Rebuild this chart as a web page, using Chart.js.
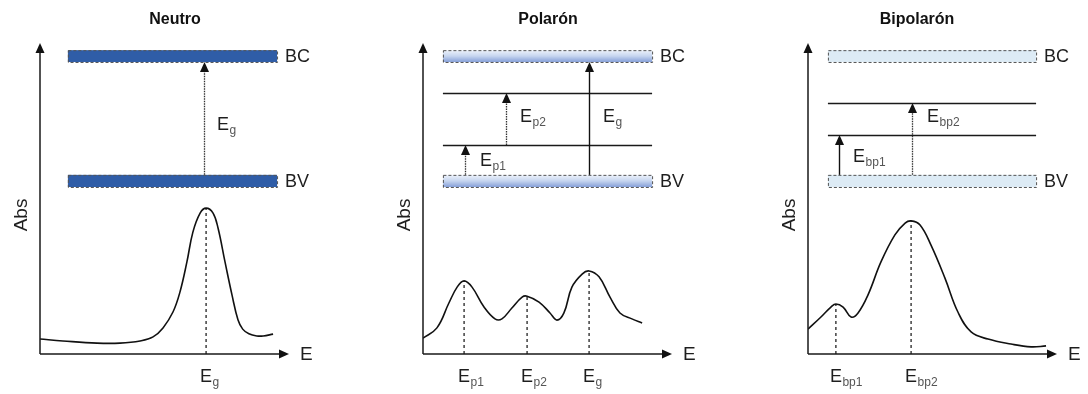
<!DOCTYPE html>
<html>
<head>
<meta charset="utf-8">
<script src="https://cdn.jsdelivr.net/npm/chart.js@4.4.0/dist/chart.umd.min.js"></script>
<style>
  html, body { margin: 0; padding: 0; background: #fff; }
  #wrap { position: relative; width: 1088px; height: 394px; overflow: hidden; }
  .panel { position: absolute; top: 0; width: 320px; height: 394px; }
</style>
</head>
<body>
<div id="wrap">
  <div class="panel" style="left:0px"><canvas id="neutro" width="320" height="394"></canvas></div>
  <div class="panel" style="left:383px"><canvas id="polaron" width="320" height="394"></canvas></div>
  <div class="panel" style="left:768px"><canvas id="bipolaron" width="320" height="394"></canvas></div>
</div>
<script>
// Absorption spectra (E and Abs both on a 0-100 scale)
const neutroE   = [0, 9.2, 22.9, 32.1, 40.2, 45.4, 49.4, 53.4, 56.2, 59.0, 61.4, 64.3, 66.7, 69.5, 71.5, 74.3, 77.1, 79.5, 81.4, 83.9, 87.1, 89.6, 93.6];
const neutroAbs = [4.8, 4.2, 3.5, 3.5, 4.2, 5.5, 8.4, 13.5, 19.9, 29.6, 39.2, 45.3, 46.9, 45.3, 40.5, 29.6, 19.0, 11.0, 8.0, 6.5, 5.8, 5.8, 6.4];

const polaronE   = [0, 5.6, 10.4, 13.7, 16.5, 19.7, 24.5, 28.9, 31.7, 35.7, 39.8, 41.8, 46.6, 51.0, 53.8, 56.6, 59.8, 63.9, 66.7, 70.7, 75.1, 79.1, 83.9, 88.0];
const polaronAbs = [5.1, 8.4, 16.4, 21.5, 23.5, 21.5, 15.1, 11.3, 11.3, 14.8, 18.3, 18.6, 16.7, 13.2, 10.9, 13.2, 21.5, 25.7, 26.7, 24.8, 18.3, 13.2, 11.3, 10.0];

const bipolaronE   = [0, 5.2, 9.2, 11.2, 14.1, 17.3, 20.1, 24.1, 29.3, 34.9, 39.0, 41.4, 45.0, 49.4, 55.0, 60.2, 65.5, 72.3, 81.5, 89.6, 95.6];
const bipolaronAbs = [8.0, 11.9, 15.1, 16.1, 15.1, 11.9, 13.2, 19.0, 29.6, 38.3, 42.1, 42.8, 41.5, 35.0, 24.4, 13.5, 7.1, 4.8, 3.2, 2.3, 2.6];

// Peak positions and their subscripts (E_x)
const neutroPeaks = [66.7];
const neutroPeakSubs = ['g'];
const polaronPeaks = [16.5, 41.8, 66.7];
const polaronPeakSubs = ['p1', 'p2', 'g'];
const bipolaronPeaks = [11.2, 41.4];
const bipolaronPeakSubs = ['bp1', 'bp2'];

// Band diagram, same vertical scale: [bottom, top] of valence / conduction bands
const bandBV = [53.7, 57.6];
const bandBC = [93.9, 97.7];
const neutroSpan = [11.2, 95.2];
const polaronSpan = [8.0, 92.0];
const bipolaronSpan = [8.0, 91.6];

// Gap states
const neutroLevels = [];
const polaronLevels = [67.2, 83.9];
const bipolaronLevels = [70.4, 80.7];

// Transitions: [x, from, to, dotted]
const neutroArrows = [[65.9, 57.6, 93.9, true]];
const polaronArrows = [[16.9, 57.6, 67.2, true], [33.3, 67.2, 83.9, true], [66.7, 57.6, 93.9, false]];
const bipolaronArrows = [[12.4, 57.6, 70.4, false], [41.8, 57.6, 80.7, true]];

// Transition labels: [subscript, x, y]
const neutroArrowLabels = [['g', 71.1, 73.6]];
const polaronArrowLabels = [['p2', 39.0, 76.2], ['g', 72.3, 76.2], ['p1', 22.9, 62.1]];
const bipolaronArrowLabels = [['bp2', 47.8, 76.2], ['bp1', 18.1, 63.3]];

const FONT = '"Liberation Sans", Arial, sans-serif';
const INK = '#1e1e1e';

function eLabel(ctx, x, y, sub, align) {
    ctx.textAlign = 'left';
    ctx.textBaseline = 'middle';
    ctx.font = '18px ' + FONT;
    const wE = ctx.measureText('E').width;
    const left = align === 'center' ? x - wE / 2 : x;
    ctx.fillStyle = INK;
    ctx.fillText('E', left, y);
    ctx.font = '12px ' + FONT;
    ctx.fillStyle = '#555';
    ctx.fillText(sub, left + wE + 0.5, y + 6);
}

function headUp(ctx, x, tipY) {
    ctx.beginPath();
    ctx.moveTo(x, tipY);
    ctx.lineTo(x - 4.5, tipY + 10);
    ctx.lineTo(x + 4.5, tipY + 10);
    ctx.closePath();
    ctx.fill();
}

function headRight(ctx, tipX, y) {
    ctx.beginPath();
    ctx.moveTo(tipX, y);
    ctx.lineTo(tipX - 10, y - 4.5);
    ctx.lineTo(tipX - 10, y + 4.5);
    ctx.closePath();
    ctx.fill();
}

function makePanel(id, cfg) {
    const curve = cfg.e.map((e, i) => ({ x: e, y: cfg.abs[i] }));
    const datasets = [{
        data: curve,
        borderColor: '#111',
        borderWidth: 1.6,
        pointRadius: 0,
        tension: 0.4,
        fill: false
    }];
    // dashed drop lines from each peak to the E axis
    cfg.peaks.forEach(p => {
        const top = cfg.abs[cfg.e.indexOf(p)];
        datasets.push({
            data: [{ x: p, y: 0 }, { x: p, y: top }],
            borderColor: '#222',
            borderWidth: 1.3,
            borderDash: [3, 3],
            pointRadius: 0,
            fill: false
        });
    });

    const diagram = {
        id: 'diagram',
        beforeDatasetsDraw(chart) {
            const { ctx, scales: { x, y } } = chart;
            const x0 = x.getPixelForValue(cfg.span[0]);
            const x1 = x.getPixelForValue(cfg.span[1]);
            ctx.save();

            // BV and BC bands
            [bandBV, bandBC].forEach((b, i) => {
                const yt = y.getPixelForValue(b[1]);
                const yb = y.getPixelForValue(b[0]);
                let fill = cfg.bandFill;
                if (fill === 'gradient') {
                    fill = ctx.createLinearGradient(0, yt, 0, yb);
                    fill.addColorStop(0, '#eef3fb');
                    fill.addColorStop(0.5, '#c6d5ef');
                    fill.addColorStop(1, '#86a0d8');
                }
                ctx.fillStyle = fill;
                ctx.fillRect(x0, yt, x1 - x0, yb - yt);
                ctx.setLineDash([3, 2]);
                ctx.strokeStyle = '#555';
                ctx.lineWidth = 1;
                ctx.strokeRect(x0 + 0.5, yt + 0.5, x1 - x0, yb - yt);
                ctx.setLineDash([]);
                ctx.fillStyle = INK;
                ctx.font = '18px ' + FONT;
                ctx.textAlign = 'left';
                ctx.textBaseline = 'middle';
                ctx.fillText(i === 0 ? 'BV' : 'BC', x1 + 8, (yt + yb) / 2 + 1);
            });

            // gap states
            ctx.strokeStyle = '#1a1a1a';
            ctx.lineWidth = 1.3;
            cfg.levels.forEach(l => {
                const py = Math.round(y.getPixelForValue(l)) + 0.5;
                ctx.beginPath();
                ctx.moveTo(x0, py);
                ctx.lineTo(x1, py);
                ctx.stroke();
            });

            // transitions
            cfg.arrows.forEach(([ax, from, to, dotted]) => {
                const px = Math.round(x.getPixelForValue(ax)) + 0.5;
                const yFrom = y.getPixelForValue(from);
                const yTo = y.getPixelForValue(to);
                ctx.strokeStyle = dotted ? '#333' : '#111';
                ctx.lineWidth = dotted ? 1.3 : 1.4;
                ctx.setLineDash(dotted ? [1.5, 1] : []);
                ctx.beginPath();
                ctx.moveTo(px, yFrom);
                ctx.lineTo(px, yTo + 8);
                ctx.stroke();
                ctx.setLineDash([]);
                ctx.fillStyle = '#111';
                headUp(ctx, px, yTo);
            });

            cfg.arrowLabels.forEach(([sub, lx, ly]) => {
                eLabel(ctx, x.getPixelForValue(lx), y.getPixelForValue(ly), sub, 'left');
            });
            ctx.restore();
        },
        afterDatasetsDraw(chart) {
            const { ctx, chartArea: a, scales: { x, y } } = chart;
            ctx.save();

            // axes with arrow heads
            ctx.strokeStyle = '#1a1a1a';
            ctx.fillStyle = '#111';
            ctx.lineWidth = 1.5;
            ctx.beginPath();
            ctx.moveTo(a.left, a.bottom);
            ctx.lineTo(a.right - 8, a.bottom);
            ctx.moveTo(a.left, a.bottom);
            ctx.lineTo(a.left, a.top + 8);
            ctx.stroke();
            headRight(ctx, a.right, a.bottom);
            headUp(ctx, a.left, a.top);

            ctx.fillStyle = INK;
            ctx.font = '19px ' + FONT;
            ctx.textAlign = 'left';
            ctx.textBaseline = 'middle';
            ctx.fillText('E', a.right + 11, a.bottom + 1);

            ctx.save();
            ctx.translate(a.left - 18, y.getPixelForValue(44.7));
            ctx.rotate(-Math.PI / 2);
            ctx.textAlign = 'center';
            ctx.font = '19px ' + FONT;
            ctx.fillText('Abs', 0, 0);
            ctx.restore();

            // peak labels under the E axis
            cfg.peaks.forEach((p, i) => {
                eLabel(ctx, x.getPixelForValue(p), a.bottom + 23, cfg.peakSubs[i], 'center');
            });

            // panel title
            ctx.fillStyle = '#111';
            ctx.font = 'bold 16px ' + FONT;
            ctx.textAlign = 'center';
            ctx.textBaseline = 'middle';
            ctx.fillText(cfg.title, x.getPixelForValue(cfg.titleX), a.top - 23);
            ctx.restore();
        }
    };

    return new Chart(document.getElementById(id), {
        type: 'line',
        data: { datasets },
        options: {
            responsive: false,
            animation: false,
            events: [],
            layout: { padding: { left: 40, right: 31, top: 43, bottom: 40 } },
            plugins: { legend: { display: false }, tooltip: { enabled: false } },
            scales: {
                x: { type: 'linear', min: 0, max: 100, display: false },
                y: { type: 'linear', min: 0, max: 100, display: false }
            }
        },
        plugins: [diagram]
    });
}

makePanel('neutro', {
    title: 'Neutro', titleX: 54.2,
    e: neutroE, abs: neutroAbs,
    peaks: neutroPeaks, peakSubs: neutroPeakSubs,
    span: neutroSpan, bandFill: '#2f5da7',
    levels: neutroLevels, arrows: neutroArrows, arrowLabels: neutroArrowLabels
});

makePanel('polaron', {
    title: 'Polarón', titleX: 50.2,
    e: polaronE, abs: polaronAbs,
    peaks: polaronPeaks, peakSubs: polaronPeakSubs,
    span: polaronSpan, bandFill: 'gradient',
    levels: polaronLevels, arrows: polaronArrows, arrowLabels: polaronArrowLabels
});

makePanel('bipolaron', {
    title: 'Bipolarón', titleX: 43.8,
    e: bipolaronE, abs: bipolaronAbs,
    peaks: bipolaronPeaks, peakSubs: bipolaronPeakSubs,
    span: bipolaronSpan, bandFill: '#ddebf5',
    levels: bipolaronLevels, arrows: bipolaronArrows, arrowLabels: bipolaronArrowLabels
});
</script>
</body>
</html>
